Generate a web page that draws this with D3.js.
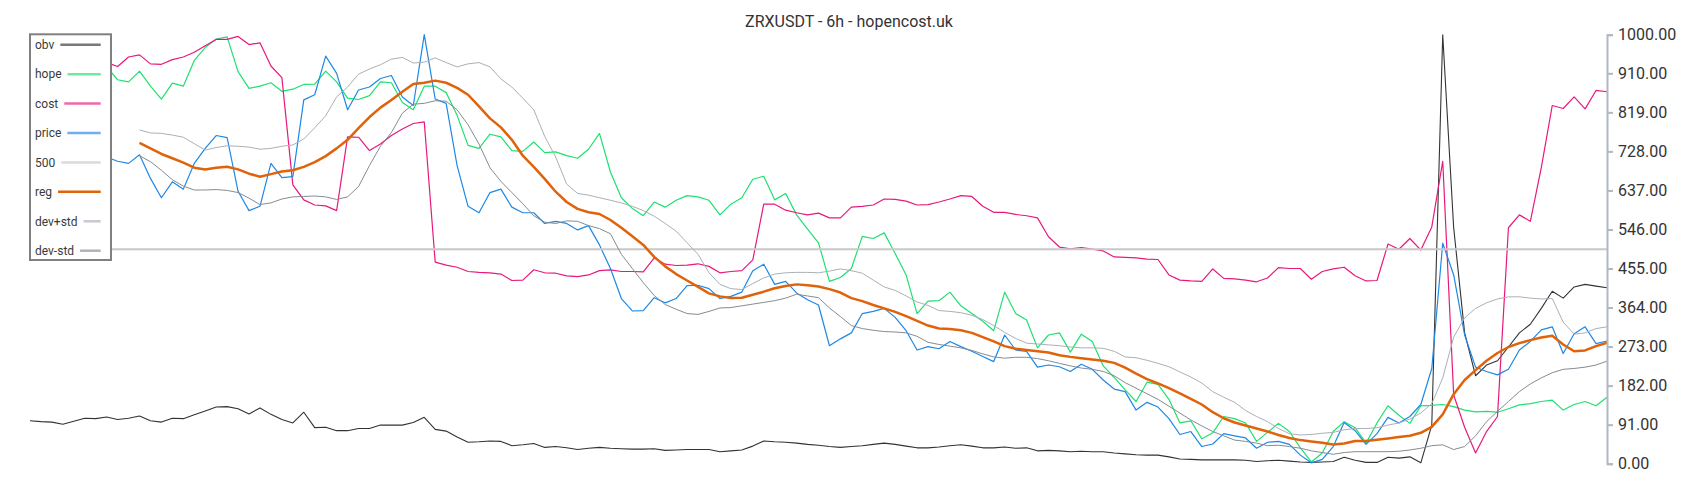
<!DOCTYPE html>
<html>
<head>
<meta charset="utf-8">
<script src="https://cdn.jsdelivr.net/npm/d3@7"></script>
<style>
  body { margin: 0; background: #fff; }
  svg { display: block; font-family: Roboto, "Open Sans", sans-serif; }
</style>
</head>
<body>
<svg width="1700" height="500"></svg>
<script>
// ===========================================================================
// DATA (one value per 6h step)
// ===========================================================================
const obv = [
  100, 98, 97, 92, 99, 106, 105, 109, 103, 106,
  111, 100, 97, 106, 105, 114, 123, 132, 133, 128,
  116, 130, 115, 103, 95, 120, 84, 85, 77, 77,
  82, 82, 90, 90, 90, 96, 108, 80, 76, 62,
  50, 51, 53, 52, 42, 44, 47, 38, 40, 37,
  33, 36, 38, 36, 35, 34, 34, 35, 31, 32,
  33, 33, 33, 28, 30, 32, 41, 53, 51, 50,
  48, 45, 43, 40, 38, 40, 42, 45, 48, 45,
  41, 37, 37, 39, 42, 44, 41, 37, 37, 39,
  36, 37, 30, 31, 30, 28, 29, 28, 28, 25,
  23, 21, 20, 20, 16, 11, 10, 9, 9, 9,
  9, 8, 5, 7, 8, 6, 4, 3, 4, 5,
  15, 8, 3, 3, 15, 13, 16, 2, 90, 1000,
  550, 305, 205, 230, 240, 272, 305, 325, 362, 402,
  386, 412, 418, 414, 410
];

const hope = [
  930, 925, 915, 935, 920, 900, 915, 925, 895, 890,
  915, 880, 850, 887, 880, 940, 970, 990, 995, 914,
  875, 880, 888, 868, 873, 884, 885, 915, 890, 852,
  849, 858, 890, 888, 842, 825, 880, 880, 865, 812,
  742, 735, 768, 762, 730, 728, 750, 725, 727, 718,
  712, 733, 770, 680, 620, 595, 578, 610, 598, 614,
  625, 622, 614, 580, 605, 620, 663, 670, 615, 630,
  580, 547, 515, 425, 434, 455, 530, 525, 538, 490,
  440, 350, 379, 380, 400, 368, 350, 332, 310, 400,
  350, 335, 270, 300, 305, 260, 302, 285, 228, 201,
  172, 145, 190, 185, 150, 95, 100, 58, 72, 110,
  105, 95, 52, 73, 94, 75, 37, 4, 25, 75,
  98, 84, 48, 95, 135, 113, 94, 135, 136, 138,
  133, 125, 121, 122, 120, 128, 137, 140, 145, 148,
  125, 138, 145, 135, 155
];

const cost = [
  945, 945, 935, 940, 950, 945, 930, 935, 926, 948,
  953, 932, 931, 942, 948, 959, 974, 989, 989, 996,
  977, 981, 927, 900, 650, 615, 603, 601, 590, 762,
  761, 730, 745, 765, 780, 793, 797, 470, 463, 458,
  448, 446, 445, 442, 427, 428, 452, 445, 444, 438,
  436, 440, 450, 452, 448, 448, 447, 480, 465, 462,
  463, 466, 460, 445, 448, 450, 475, 605, 605, 591,
  585, 580, 584, 573, 573, 598, 600, 603, 617, 616,
  612, 603, 604, 610, 617, 625, 623, 600, 586, 586,
  581, 578, 573, 529, 505, 501, 504, 500, 496, 482,
  481, 480, 477, 476, 440, 428, 426, 425, 454, 432,
  431, 428, 424, 433, 457, 455, 455, 430, 448, 454,
  458, 438, 426, 427, 512, 500, 525, 498, 552, 705,
  160, 85, 25, 75, 110, 550, 580, 565, 690, 835,
  828, 855, 827, 870, 867
];

const price = [
  700, 720, 690, 705, 740, 720, 700, 715, 705, 700,
  720, 665, 620, 657, 640, 700, 735, 765, 760, 635,
  590, 600, 700, 667, 669, 848, 860, 950, 910, 825,
  871, 878, 898, 905, 855, 835, 1000, 850, 840, 695,
  600, 585, 632, 640, 598, 585, 585, 560, 565, 560,
  545, 555, 510, 455, 385, 356, 357, 387, 375, 385,
  415, 416, 408, 385, 390, 400, 450, 465, 418, 425,
  398, 382, 370, 275, 291, 305, 350, 355, 362, 341,
  310, 265, 273, 268, 285, 273, 262, 250, 238, 300,
  265, 262, 225, 230, 226, 215, 232, 220, 195, 174,
  168, 125, 143, 132, 105, 68, 75, 40, 46, 70,
  65, 60, 36, 50, 52, 45, 20, 2, 10, 40,
  96, 77, 45, 70, 108, 95, 110, 138, 222, 514,
  440, 300, 225, 215, 207, 220, 265, 285, 312, 319,
  257, 303, 319, 280, 286
];

const level500 = [500, 500];

const reg = [
  null, null, null, null, null, null, null, null, null, null,
  748, 735, 722, 712, 702, 690, 686, 690, 692, 686,
  676, 669, 675, 681, 684, 692, 703, 717, 735, 755,
  782, 808, 830, 848, 867, 885, 888, 893, 888, 876,
  860, 833, 805, 784, 755, 718, 692, 664, 634, 610,
  594, 586, 582, 568, 550, 530, 510, 482, 460, 442,
  427, 412, 397, 390, 386, 387, 394, 401, 409, 414,
  418, 416, 413, 407, 399, 386, 379, 370, 362, 354,
  344, 333, 322, 315, 314, 311, 305, 295, 285, 274,
  268, 265, 262, 259, 253, 249, 246, 243, 240, 235,
  224, 210, 197, 187, 176, 164, 151, 138, 120, 106,
  96, 89, 82, 75, 67, 60, 55, 52, 49, 45,
  47, 53, 53, 56, 59, 62, 65, 72, 86, 115,
  162, 195, 218, 240, 258, 272, 281, 288, 294, 298,
  278, 262, 264, 274, 282
];

const devPlus = [
  null, null, null, null, null, null, null, null, null, null,
  778, 771, 770, 766, 761, 746, 731, 737, 741, 740,
  738, 733, 735, 740, 743, 757, 783, 811, 855, 878,
  908, 920, 930, 943, 947, 934, 936, 946, 935, 925,
  932, 935, 925, 897, 878, 852, 825, 763, 715, 652,
  630, 626, 620, 614, 608, 600, 590, 577, 560, 542,
  515, 488, 445, 418, 408, 406, 420, 433, 442, 445,
  446, 446, 445, 449, 454, 450, 444, 428, 412, 404,
  391, 377, 369, 357, 355, 352, 346, 336, 322, 306,
  292, 281, 279, 277, 275, 272, 270, 270, 269, 262,
  249, 247, 241, 234, 226, 214, 202, 188, 168, 155,
  143, 124, 110, 98, 82, 70, 67, 68, 71, 73,
  79, 82, 82, 84, 90, 95, 104, 118, 140, 200,
  295, 340, 362, 375, 384, 389, 389, 386, 384, 385,
  330, 302, 305, 315, 319
];

const devMinus = [
  null, null, null, null, null, null, null, null, null, null,
  718, 704, 684, 662, 647, 638, 638, 639, 637, 632,
  619, 604, 608, 617, 622, 623, 624, 622, 616, 622,
  646, 695, 740, 772, 817, 838, 840, 846, 845, 825,
  790, 745, 690, 658, 632, 606, 578, 563, 560, 566,
  565, 555, 548, 536, 488, 455, 422, 392, 371, 360,
  350, 348, 355, 363, 364, 368, 372, 376, 380, 386,
  395, 391, 387, 363, 343, 322, 315, 311, 308, 307,
  305, 297, 283, 278, 274, 270, 264, 256, 249, 246,
  248, 248, 245, 240, 234, 228, 223, 220, 215, 205,
  189, 176, 163, 150, 134, 118, 102, 88, 75, 65,
  55, 52, 48, 42, 43, 40, 36, 30, 26, 22,
  26, 28, 28, 28, 28, 29, 32, 36, 42, 44,
  33, 40, 65, 98, 122, 145, 168, 186, 200, 212,
  220, 222, 225, 230, 239
];

const yTicks = [0, 91, 182, 273, 364, 455, 546, 637, 728, 819, 910, 1000];
const legendNames = ["obv", "hope", "cost", "price", "500", "reg", "dev+std", "dev-std"];
const title = "ZRXUSDT - 6h - hopencost.uk";

// ===========================================================================
// SETUP
// ===========================================================================
var svg = d3.select("svg"),
  plotLeft = 30,
  plotRight = 1607,
  plotTop = 34.7,
  plotBottom = 463.7,
  n = obv.length;

var xScale = d3.scaleLinear().domain([0, n - 1]).range([plotLeft, plotRight]);
var yScale = d3.scaleLinear().domain([0, 1000]).range([plotBottom, plotTop]);

var series = [
  { name: "obv", values: obv, color: "#333333", width: 1.1 },
  { name: "hope", values: hope, color: "#1fe070", width: 1.2 },
  { name: "cost", values: cost, color: "#e8197c", width: 1.2 },
  { name: "price", values: price, color: "#1e88e5", width: 1.2 },
  { name: "500", values: level500, color: "#c8c8c8", width: 2 },
  { name: "reg", values: reg, color: "#e0620a", width: 2.5 },
  { name: "dev+std", values: devPlus, color: "#a9b0b7", width: 1 },
  { name: "dev-std", values: devMinus, color: "#858c94", width: 1 }
];

// ===========================================================================
// LINES
// ===========================================================================
series.forEach((s) => {
  // the 500 level only has its two end points
  var step = s.values.length === 2 ? n - 1 : 1;
  var line = d3
    .line()
    .defined((d) => d != null)
    .x((d, i) => xScale(i * step))
    .y((d) => yScale(d));

  svg
    .append("path")
    .datum(s.values)
    .attr("fill", "none")
    .attr("stroke", s.color)
    .attr("stroke-width", s.width)
    .attr("stroke-linejoin", "round")
    .attr("d", line);
});

// ===========================================================================
// Y-AXIS (right)
// ===========================================================================
var axis = svg
  .append("g")
  .attr("transform", "translate(" + plotRight + ",0)")
  .call(d3.axisRight(yScale).tickValues(yTicks).tickFormat(d3.format(".2f")).tickSize(6).tickPadding(5));

axis.select(".domain").attr("stroke", "#b0b8c0").attr("stroke-width", 2);
axis.selectAll(".tick line").attr("stroke", "#b0b8c0").attr("stroke-width", 2);
axis
  .selectAll(".tick text")
  .attr("fill", "#333")
  .style("font-size", "16px")
  .style("font-family", "Roboto, sans-serif");

// ===========================================================================
// LEGEND
// ===========================================================================
var legend = svg.append("g");

legend
  .append("rect")
  .attr("x", 30)
  .attr("y", 34.3)
  .attr("width", 81)
  .attr("height", 225.7)
  .attr("fill", "#fff")
  .attr("stroke", "#808080")
  .attr("stroke-width", 2);

legendNames.forEach((name, k) => {
  var s = series.find((d) => d.name === name);
  var cy = 44.7 + k * 29.43;

  var label = legend
    .append("text")
    .attr("x", 35)
    .attr("y", cy + 4.3)
    .attr("fill", "#3a3a3a")
    .style("font-size", "12px")
    .text(name);

  var tw = label.node().getComputedTextLength();

  legend
    .append("line")
    .attr("x1", 35 + tw + 6)
    .attr("x2", 100.7)
    .attr("y1", cy)
    .attr("y2", cy)
    .attr("stroke", s.color)
    .attr("stroke-width", 2.5)
    .attr("opacity", name === "reg" ? 1 : 0.65);
});

// ===========================================================================
// TITLE
// ===========================================================================
svg
  .append("text")
  .attr("x", 849)
  .attr("y", 26.5)
  .attr("text-anchor", "middle")
  .attr("fill", "#333")
  .style("font-size", "16px")
  .text(title);
</script>
</body>
</html>
